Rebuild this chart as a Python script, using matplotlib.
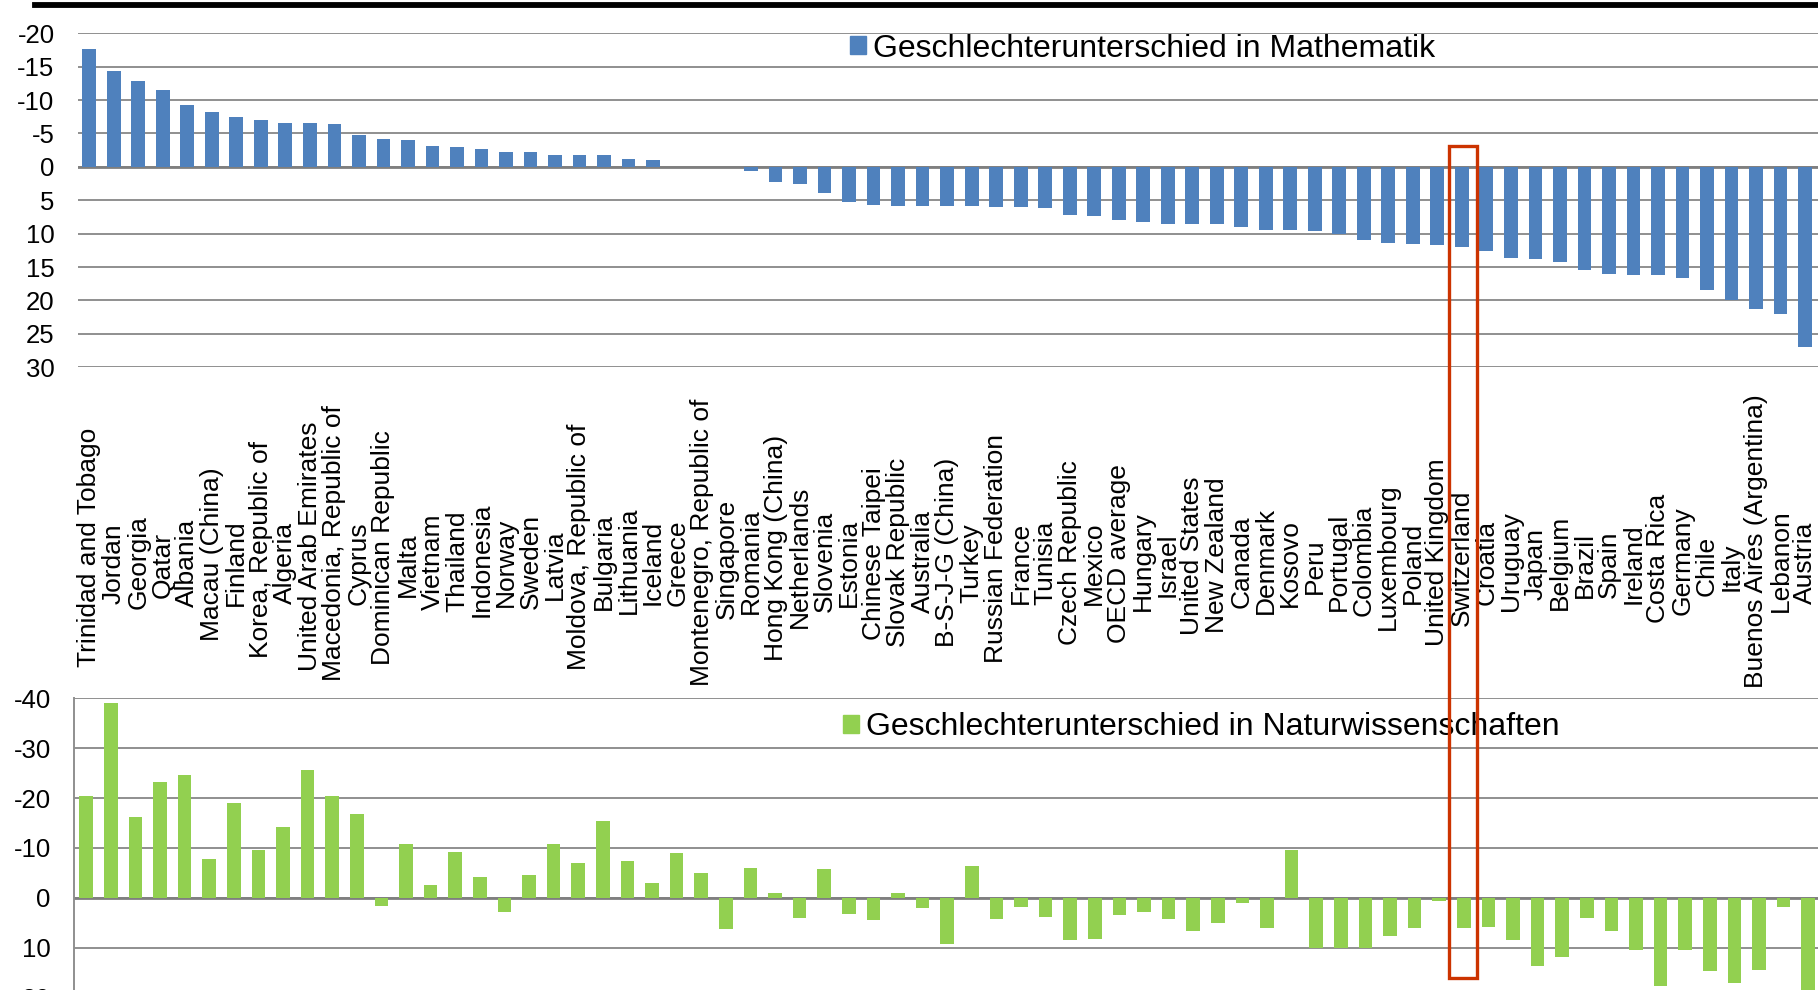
import matplotlib
matplotlib.use("Agg")
import matplotlib.pyplot as plt
from matplotlib.patches import Patch, Rectangle
from matplotlib.lines import Line2D
from matplotlib.transforms import blended_transform_factory

plt.rcParams["font.family"] = ["Liberation Sans", "DejaVu Sans"]
plt.rcParams["axes.unicode_minus"] = False

# PISA 2015: Geschlechterunterschied (Punkte), sortiert nach Mathematik
laender = ["Trinidad and Tobago", "Jordan", "Georgia", "Qatar", "Albania",
           "Macau (China)", "Finland", "Korea, Republic of", "Algeria",
           "United Arab Emirates", "Macedonia, Republic of", "Cyprus",
           "Dominican Republic", "Malta", "Vietnam", "Thailand", "Indonesia",
           "Norway", "Sweden", "Latvia", "Moldova, Republic of", "Bulgaria",
           "Lithuania", "Iceland", "Greece", "Montenegro, Republic of",
           "Singapore", "Romania", "Hong Kong (China)", "Netherlands",
           "Slovenia", "Estonia", "Chinese Taipei", "Slovak Republic",
           "Australia", "B-S-J-G (China)", "Turkey", "Russian Federation",
           "France", "Tunisia", "Czech Republic", "Mexico", "OECD average",
           "Hungary", "Israel", "United States", "New Zealand", "Canada",
           "Denmark", "Kosovo", "Peru", "Portugal", "Colombia", "Luxembourg",
           "Poland", "United Kingdom", "Switzerland", "Croatia", "Uruguay",
           "Japan", "Belgium", "Brazil", "Spain", "Ireland", "Costa Rica",
           "Germany", "Chile", "Italy", "Buenos Aires (Argentina)", "Lebanon",
           "Austria"]

mathe = [-17.6, -14.35, -12.85, -11.55, -9.2, -8.15, -7.5, -7.0, -6.55, -6.5,
         -6.45, -4.75, -4.15, -3.95, -3.05, -2.95, -2.6, -2.2, -2.2, -1.85,
         -1.85, -1.8, -1.2, -1.1, 0.0, 0.0, 0.0, 0.6, 2.3, 2.5,
         3.85, 5.25, 5.7, 5.8, 5.8, 5.85, 5.9, 6.0, 6.0, 6.1,
         7.15, 7.35, 7.95, 8.2, 8.5, 8.55, 8.6, 9.05, 9.45, 9.5,
         9.55, 10.0, 10.9, 11.35, 11.5, 11.65, 12.05, 12.65, 13.65, 13.8,
         14.3, 15.5, 16.0, 16.2, 16.2, 16.6, 18.4, 20.0, 21.3, 22.1, 27.0]

natur = [-20.5, -39.1, -16.2, -23.2, -24.6, -7.7, -19.1, -9.5, -14.2, -25.6,
         -20.4, -16.8, 1.6, -10.7, -2.6, -9.1, -4.1, 2.8, -4.6, -10.7,
         -6.9, -15.4, -7.4, -2.95, -8.9, -4.9, 6.3, -6.0, -0.95, 4.0,
         -5.7, 3.2, 4.4, -0.95, 2.0, 9.3, -6.4, 4.2, 1.8, 3.8,
         8.5, 8.2, 3.4, 2.9, 4.2, 6.6, 5.0, 1.0, 6.0, -9.5,
         10.0, 10.0, 10.0, 7.6, 6.1, 0.6, 6.1, 5.8, 8.5, 13.7,
         11.8, 4.0, 6.6, 10.5, 17.7, 10.4, 14.7, 17.1, 14.4, 1.9, 21.0]

ticks_mathe = [-20, -15, -10, -5, 0, 5, 10, 15, 20, 25, 30]
ticks_natur = [-40, -30, -20, -10, 0, 10, 20, 30]

BLAU = "#4f81bd"
GRUEN = "#92d050"
GRID = "#8f8f8f"

W, H = 1818, 990
fig = plt.figure(figsize=(W / 100, H / 100), dpi=100)

def px(left, top, width, height):
    # Pixelbox (oben links) -> Figure-Koordinaten
    return [left / W, 1 - (top + height) / H, width / W, height / H]

x = list(range(len(laender)))

# oberes Diagramm: Mathematik
ax1 = fig.add_axes(px(77.5, 33.3, 1752, 333.9))
ax1.bar(x, mathe, width=0.56, color=BLAU, zorder=3)
ax1.set_xlim(-0.48, 71)
ax1.set_ylim(30, -20)
ax1.set_yticks(ticks_mathe)
ax1.set_xticks([])
ax1.yaxis.grid(True, color=GRID, lw=1.4)
ax1.axhline(0, color="#7f7f7f", lw=2.0, zorder=2)
ax1.set_axisbelow(True)
for s in ax1.spines.values():
    s.set_visible(False)
ax1.tick_params(axis="y", length=0, pad=16.5, labelsize=18.5)

# unteres Diagramm: Naturwissenschaften
ax2 = fig.add_axes(px(73.7, 698.3, 1759.1, 349))
ax2.bar(x, natur, width=0.55, color=GRUEN, zorder=3)
ax2.set_xlim(-0.508, 71)
ax2.set_ylim(30, -40)
ax2.set_yticks(ticks_natur)
ax2.set_xticks([])
ax2.yaxis.grid(True, color=GRID, lw=1.4)
ax2.axhline(0, color="#7f7f7f", lw=2.0, zorder=2)
ax2.set_axisbelow(True)
for k, s in ax2.spines.items():
    s.set_visible(k == "left")
ax2.spines["left"].set_color(GRID)
ax2.spines["left"].set_linewidth(1.4)
ax2.tick_params(axis="y", length=0, pad=16.5, labelsize=18.5)

# Legenden
fig.legend(handles=[Patch(color=BLAU, label="Geschlechterunterschied in Mathematik")],
           loc="center left", bbox_to_anchor=(850 / W, 1 - 48.7 / H),
           bbox_transform=fig.transFigure, frameon=False, fontsize=23,
           borderpad=0, borderaxespad=0, handlelength=0.5, handleheight=0.5,
           handletextpad=0.22)
fig.legend(handles=[Patch(color=GRUEN, label="Geschlechterunterschied in Naturwissenschaften")],
           loc="center left", bbox_to_anchor=(843 / W, 1 - 727 / H),
           bbox_transform=fig.transFigure, frameon=False, fontsize=23,
           borderpad=0, borderaxespad=0, handlelength=0.5, handleheight=0.5,
           handletextpad=0.22)

# Laendernamen zwischen den beiden Diagrammen
trans = blended_transform_factory(ax1.transData, fig.transFigure)
texte = [ax1.text(i, 0.45, name, rotation=90, ha="center", va="center",
                  fontsize=19, transform=trans, clip_on=False)
         for i, name in enumerate(laender)]
fig.canvas.draw()
renderer = fig.canvas.get_renderer()
for t in texte:
    laenge = t.get_window_extent(renderer).height
    mitte = 571.7 - 0.103 * laenge
    t.set_y(1 - mitte / H)

# schwarze Linie oben
fig.add_artist(Line2D([35 / W, 1.0], [1 - 4.5 / H] * 2, transform=fig.transFigure,
                      color="black", lw=4.2))

# Markierung Schweiz ueber beide Diagramme
sw = laender.index("Switzerland")
inv = fig.transFigure.inverted()
x0, y0 = inv.transform(ax1.transData.transform((sw - 0.54, -3.05)))
x1, y1 = inv.transform(ax2.transData.transform((sw + 0.54, 16.1)))
fig.add_artist(Rectangle((x0, y1), x1 - x0, y0 - y1, transform=fig.transFigure,
                         fill=False, edgecolor="#cc3300", lw=2.4, zorder=10))

fig.savefig("out.png", dpi=100)
